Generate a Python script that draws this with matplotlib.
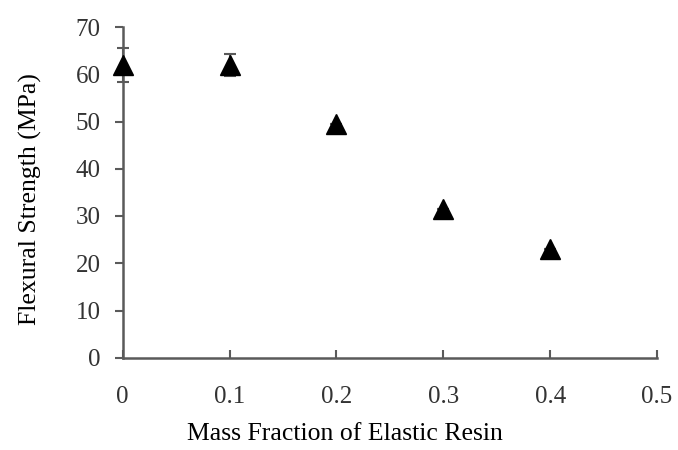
"""Flexural strength vs. mass fraction of elastic resin."""

import matplotlib

matplotlib.use("Agg")

import matplotlib.pyplot as plt


mass_fraction = [0.0, 0.1, 0.2, 0.3, 0.4]
flexural_strength = [62.0, 62.0, 49.5, 31.5, 23.0]
strength_err = [3.6, 2.3, 0.0, 0.0, 0.0]

x_ticks = [0, 0.1, 0.2, 0.3, 0.4, 0.5]
x_tick_labels = ["0", "0.1", "0.2", "0.3", "0.4", "0.5"]
y_ticks = [0, 10, 20, 30, 40, 50, 60, 70]

SPINE_COLOR = "#5a5a5a"

plt.rcParams["font.family"] = ["Liberation Serif", "DejaVu Serif"]

fig = plt.figure(figsize=(6.78, 4.5), dpi=100)
ax = fig.add_axes([0.181, 0.205, 0.788, 0.735])

ax.errorbar(
    mass_fraction,
    flexural_strength,
    yerr=strength_err,
    fmt="^",
    color="black",
    markersize=15,
    ecolor=SPINE_COLOR,
    elinewidth=1.5,
    capsize=4,
    capthick=1.5,
    clip_on=False,
    zorder=5,
)

ax.set_xlim(0, 0.5)
ax.set_ylim(0, 70)
ax.set_xticks(x_ticks)
ax.set_xticklabels(x_tick_labels)
ax.set_yticks(y_ticks)

for side in ("top", "right"):
    ax.spines[side].set_visible(False)
for side in ("left", "bottom"):
    ax.spines[side].set_color(SPINE_COLOR)
    ax.spines[side].set_linewidth(1.8)

ax.tick_params(axis="y", direction="out", length=6, width=1.5,
               color=SPINE_COLOR, labelsize=18, labelcolor="#333333", pad=10)
ax.tick_params(axis="x", direction="in", length=6, width=1.5,
               color=SPINE_COLOR, labelsize=18, labelcolor="#333333", pad=20)

ax.set_xlabel("Mass Fraction of Elastic Resin", fontsize=18.5, labelpad=11)
ax.xaxis.label.set_x(0.416)
ax.set_ylabel("Flexural Strength (MPa)", fontsize=18.5, labelpad=24)
ax.yaxis.label.set_y(0.48)

fig.savefig("out.png", dpi=100)
plt.close(fig)
